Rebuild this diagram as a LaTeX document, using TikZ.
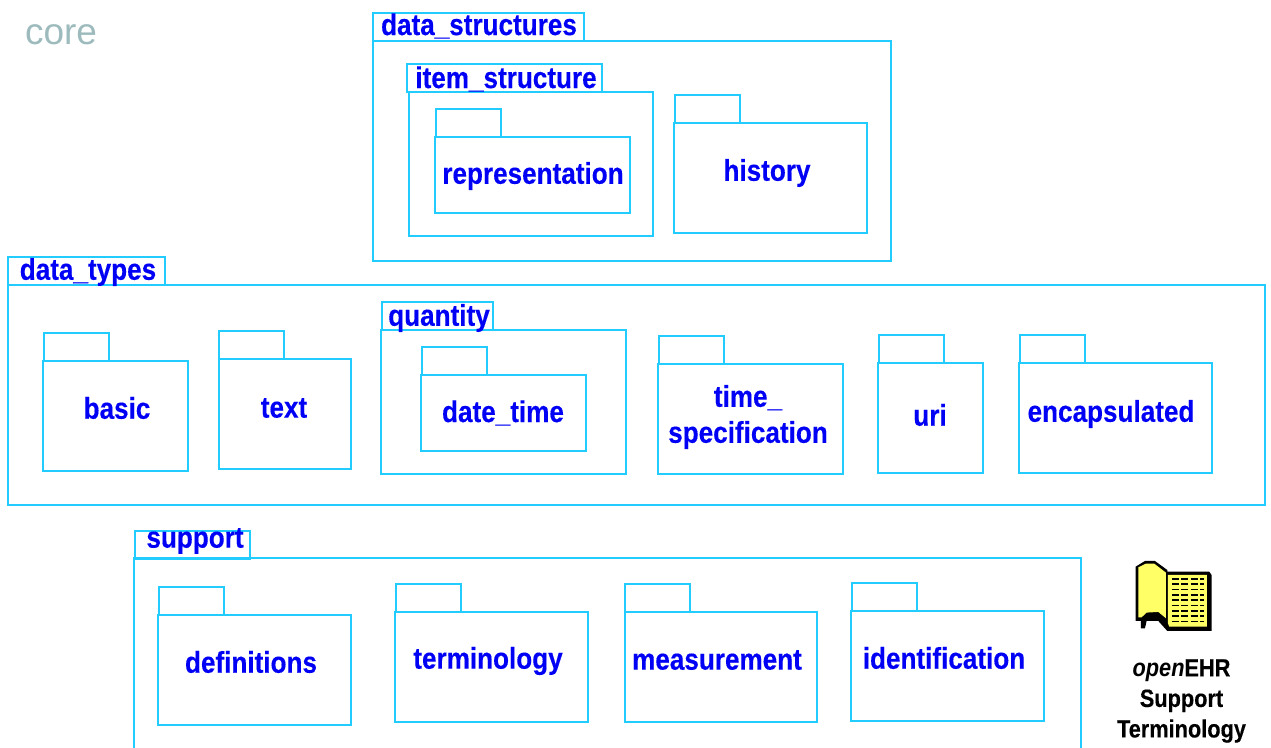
\documentclass[tikz,border=0pt]{standalone}
\usepackage{fontspec}
\setmainfont{Liberation Sans}
\newfontfamily\narrowsans[FakeStretch=0.87,BoldFeatures={FakeBold=0.25}]{Liberation Sans}
\definecolor{pkgline}{HTML}{22CCFF}
\definecolor{pkgtext}{HTML}{0000F5}
\definecolor{coregrey}{HTML}{9DBBBD}
\definecolor{bookyellow}{HTML}{FFFF66}
\tikzset{
  pkg/.style={draw=pkgline,line width=1.9pt,fill=none},
  lab/.style={text=pkgtext,font=\narrowsans\fontsize{30}{32}\selectfont\bfseries,inner sep=0pt,align=center},
  captext/.style={text=black,font=\narrowsans\fontsize{25}{30.5}\selectfont\bfseries,inner sep=0pt,align=center},
}
% \pk{name}{x0}{y0}{x1}{y1}: rectangle node by its corners
\newcommand{\pk}[5]{\node[pkg,anchor=north west,inner sep=0pt,minimum width=#4pt-#2pt,minimum height=#5pt-#3pt] (#1) at (#2-1,#3-1) {};}
\begin{document}
\begin{tikzpicture}[x=1pt,y=-1pt]
\useasboundingbox (0,0) rectangle (1271,747);
\clip (0,0) rectangle (1271,747);
\node[text=coregrey,font=\fontsize{37}{40}\selectfont,inner sep=0pt] (core) at (61,35) {core};

% data_structures
\pk{dsT}{373}{13}{584}{41}
\pk{ds}{373}{41}{891}{261}
\pk{isT}{407}{64}{602}{92}
\pk{is}{409}{92}{653}{236}
\pk{repT}{436}{109}{501}{137}
\pk{rep}{435}{137}{630}{213}
\pk{hisT}{675}{95}{740}{123}
\pk{his}{674}{123}{867}{233}
\node[lab] (l1) at (479,26) {data\_structures};
\node[lab] (l2) at (506,79) {item\_structure};
\node[lab] (l3) at (533,176) {representation};
\node[lab] (l4) at (767,173) {history};

% data_types
\pk{dtT}{8}{257}{165}{285}
\pk{dt}{8}{285}{1265}{505}
\pk{baT}{44}{333}{109}{361}
\pk{ba}{43}{361}{188}{471}
\pk{teT}{219}{331}{284}{359}
\pk{te}{219}{359}{351}{469}
\pk{quT}{382}{302}{493}{330}
\pk{qu}{381}{330}{626}{474}
\pk{dateT}{422}{347}{487}{375}
\pk{date}{421}{375}{586}{451}
\pk{tiT}{659}{336}{724}{364}
\pk{ti}{658}{364}{843}{474}
\pk{urT}{879}{335}{944}{363}
\pk{ur}{878}{363}{983}{473}
\pk{enT}{1020}{335}{1085}{363}
\pk{en}{1019}{363}{1212}{473}
\node[lab] (l5) at (88,272) {data\_types};
\node[lab] (l6) at (117,408) {basic};
\node[lab] (l7) at (284,408) {text};
\node[lab] (l8) at (439,318) {quantity};
\node[lab] (l9) at (503,413) {date\_time};
\node[lab] (l10) at (748,417) {time\_\\[4pt]specification};
\node[lab] (l11) at (930,415) {uri};
\node[lab] (l12) at (1111,414) {encapsulated};

% support
\pk{suT}{135}{531}{250}{559}
\pk{su}{134}{558}{1081}{790}
\pk{deT}{159}{587}{224}{615}
\pk{de}{158}{615}{351}{725}
\pk{termT}{396}{584}{461}{612}
\pk{term}{395}{612}{588}{722}
\pk{meT}{625}{584}{690}{612}
\pk{me}{625}{612}{817}{722}
\pk{idT}{852}{583}{917}{611}
\pk{id}{851}{611}{1044}{721}
\node[lab] (l13) at (195,541) {support};
\node[lab] (l14) at (251,662) {definitions};
\node[lab] (l15) at (488,661) {terminology};
\node[lab] (l16) at (717,660) {measurement};
\node[lab] (l17) at (944,658) {identification};

% book icon (coordinates in 1/3 px, from the icon's corner)
\begin{scope}[shift={(1090,540)},x=0.333pt,y=-0.333pt]
  \fill[black] (232,95) -- (358,95) -- (365,105) -- (365,273) -- (232,273) -- (205,243) -- (170,243) -- (165,265) -- (153,265) -- (153,243) -- (137,243) -- (137,80) -- (165,63) -- (195,63) -- (232,90) -- cycle;
  \fill[bookyellow] (145,82) -- (168,71) -- (193,71) -- (228,98) -- (228,235) -- (205,216) -- (170,218) -- (155,232) -- (145,232) -- cycle;
  \fill[bookyellow] (234,105) -- (351,105) -- (351,260) -- (238,260) -- (234,250) -- cycle;
  \foreach \yy in {117,133,149,165,181,197,213,229,245}{
    \draw[black,line width=1.7pt,dash pattern=on 7pt off 2.2pt] (247,\yy) -- (343,\yy);
  }
\end{scope}
\node[captext] (book) at (1181.5,701) {\textit{open}EHR\\Support\\Terminology};
\end{tikzpicture}
\end{document}
